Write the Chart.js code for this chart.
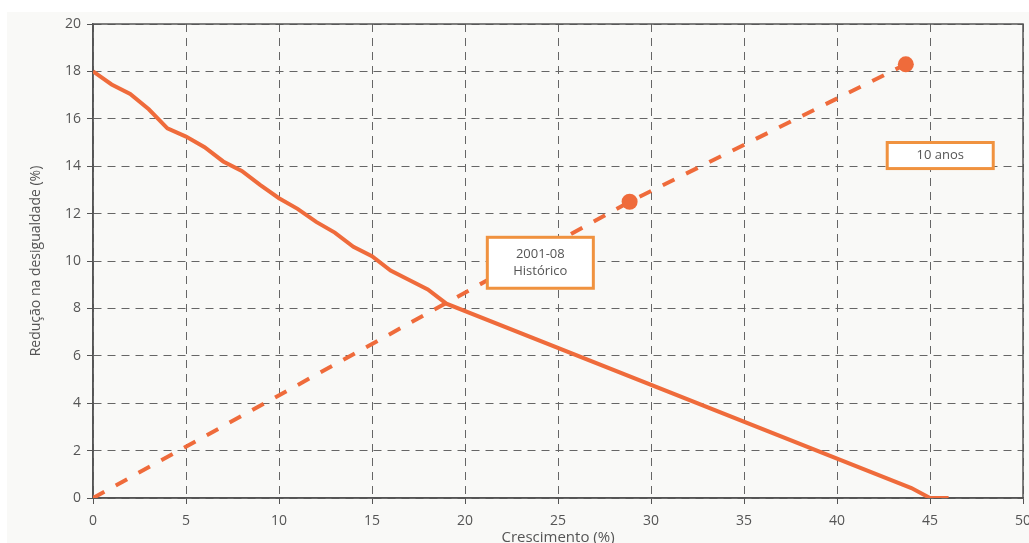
<!DOCTYPE html>
<html>
<head>
<meta charset="utf-8">
<script src="https://cdn.jsdelivr.net/npm/chart.js@4"></script>
<style>
  html, body { margin: 0; padding: 0; background: #ffffff; overflow: hidden; }
  #wrap { width: 1029px; height: 543px; overflow: hidden; }
</style>
</head>
<body>
<div id="wrap"><canvas id="cresc" width="1045" height="550"></canvas></div>
<script>
// solid line: reduction in inequality needed for each growth rate
var solidX = [0, 1, 2, 3, 4, 5, 6, 7, 8, 9, 10, 11, 12, 13, 14, 15, 16, 17, 18, 19, 44, 45, 46];
var solidY = [18, 17.45, 17.05, 16.4, 15.6, 15.25, 14.8, 14.2, 13.8, 13.2, 12.65, 12.2, 11.65, 11.2, 10.6, 10.2, 9.6, 9.2, 8.8, 8.2, 0.42, 0, 0];

// dashed line: historical path, with markers at 2001-08 and 10 years
var dashX = [0, 28.85, 43.7];
var dashY = [0, 12.5, 18.3];
var dashMarker = [0, 8, 8];

var xTicks = [0, 5, 10, 15, 20, 25, 30, 35, 40, 45, 50];
var yTicks = [0, 2, 4, 6, 8, 10, 12, 14, 16, 18, 20];

// label boxes (data coords)
var boxLabels = [
  { x0: 21.2, x1: 26.9, y0: 11.0, y1: 8.85, lines: ['2001-08', 'Histórico'] },
  { x0: 42.7, x1: 48.4, y0: 15.0, y1: 13.9, lines: ['10 anos'] }
];

var lineColor = '#ef6b3b';
var boxColor = '#f0923f';
var textColor = '#555555';

function toPoints(xs, ys) {
  var pts = [];
  xs.forEach(function (x, i) { pts.push({ x: x, y: ys[i] }); });
  return pts;
}

var panelBg = {
  id: 'panelBg',
  beforeDraw: function (chart) {
    var ctx = chart.ctx;
    ctx.save();
    ctx.fillStyle = '#f9f9f7';
    ctx.fillRect(7, 12, chart.width - 7, chart.height - 12);
    ctx.restore();
  },
  beforeDatasetsDraw: function (chart) {
    var a = chart.chartArea, ctx = chart.ctx;
    ctx.save();
    ctx.strokeStyle = '#555555';
    ctx.lineWidth = 1.5;
    ctx.strokeRect(a.left, a.top, a.right - a.left, a.bottom - a.top);
    ctx.restore();
  },
  afterDatasetsDraw: function (chart) {
    var ctx = chart.ctx, xs = chart.scales.x, ys = chart.scales.y;
    ctx.save();
    boxLabels.forEach(function (b) {
      var l = xs.getPixelForValue(b.x0), r = xs.getPixelForValue(b.x1);
      var t = ys.getPixelForValue(b.y0), btm = ys.getPixelForValue(b.y1);
      ctx.fillStyle = '#ffffff';
      ctx.fillRect(l, t, r - l, btm - t);
      ctx.strokeStyle = boxColor;
      ctx.lineWidth = 3;
      ctx.strokeRect(l, t, r - l, btm - t);
      ctx.fillStyle = textColor;
      ctx.font = '13px "Open Sans"';
      ctx.textAlign = 'center';
      ctx.textBaseline = 'middle';
      var cy = (t + btm) / 2, lh = 17;
      b.lines.forEach(function (s, i) {
        ctx.fillText(s, (l + r) / 2, cy + (i - (b.lines.length - 1) / 2) * lh);
      });
    });
    ctx.restore();
  }
};

var ctx = document.getElementById('cresc').getContext('2d');
var chart = new Chart(ctx, {
  type: 'scatter',
  data: {
    datasets: [{
      label: 'Redução necessária',
      data: toPoints(solidX, solidY),
      showLine: true,
      borderColor: lineColor,
      backgroundColor: lineColor,
      borderWidth: 4,
      pointRadius: 0,
      tension: 0
    }, {
      label: 'Histórico',
      data: toPoints(dashX, dashY),
      showLine: true,
      borderColor: lineColor,
      backgroundColor: lineColor,
      borderWidth: 4,
      borderDash: [13, 13],
      pointRadius: dashMarker,
      pointBorderWidth: 0,
      tension: 0
    }]
  },
  options: {
    responsive: false,
    animation: false,
    layout: { padding: { top: 24, right: 22, left: 0, bottom: 0 } },
    plugins: {
      legend: { display: false },
      tooltip: { enabled: false }
    },
    scales: {
      x: {
        type: 'linear',
        min: 0,
        max: 50,
        afterBuildTicks: function (scale) {
          scale.ticks = xTicks.map(function (v) { return { value: v }; });
        },
        afterFit: function (scale) {
          scale.height = 52;
        },
        ticks: { color: textColor, font: { family: 'Open Sans', size: 14 }, padding: 9, maxRotation: 0 },
        grid: { color: '#666666', lineWidth: 1, tickLength: 6, tickColor: '#555555', tickBorderDash: [] },
        border: { display: true, color: '#555555', width: 1.5, dash: [8, 6] },
        title: {
          display: true,
          text: 'Crescimento (%)',
          color: textColor,
          font: { family: 'Open Sans', size: 15 },
          padding: { top: 0, bottom: 3 }
        }
      },
      y: {
        type: 'linear',
        min: 0,
        max: 20,
        afterBuildTicks: function (scale) {
          scale.ticks = yTicks.map(function (v) { return { value: v }; });
        },
        afterFit: function (scale) {
          scale.width = 93;
        },
        ticks: { color: textColor, font: { family: 'Open Sans', size: 14 }, padding: 6 },
        grid: { color: '#666666', lineWidth: 1, tickLength: 6, tickColor: '#555555', tickBorderDash: [] },
        border: { display: true, color: '#555555', width: 1.5, dash: [8, 6] },
        title: {
          display: true,
          text: 'Redução na desigualdade (%)',
          color: textColor,
          font: { family: 'Open Sans', size: 14 },
          padding: { top: 28, bottom: 0 }
        }
      }
    }
  },
  plugins: [panelBg]
});
</script>
</body>
</html>
